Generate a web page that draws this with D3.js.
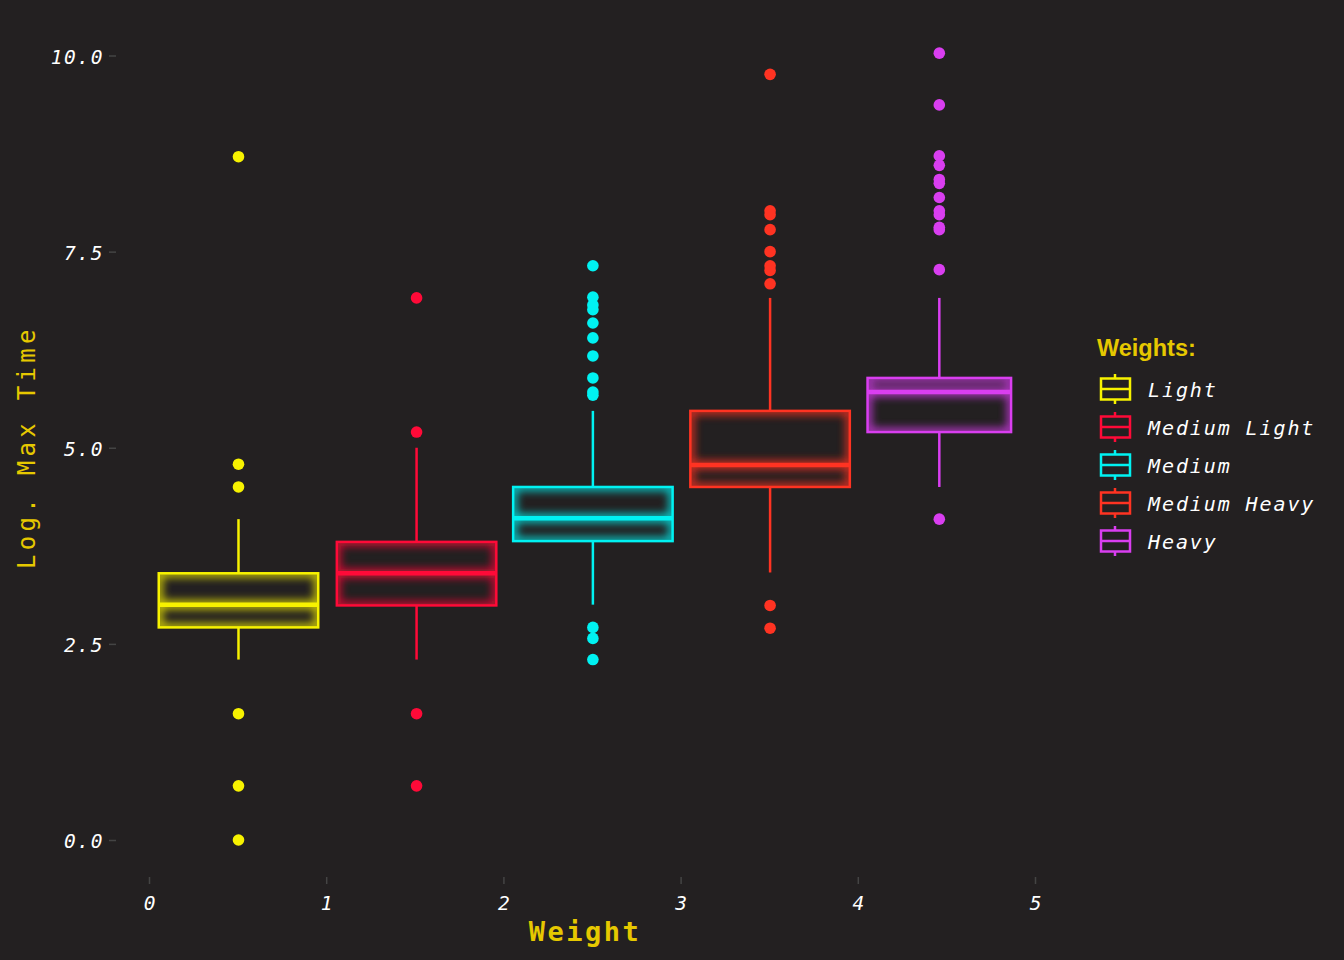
<!DOCTYPE html>
<html><head><meta charset="utf-8">
<script src="https://cdn.jsdelivr.net/npm/d3@7"></script>
<style>
html,body{margin:0;padding:0;background:#232021;}
svg{display:block;}
</style></head>
<body>
<svg id="chart" width="1344" height="960"></svg>
<script>
// ---- data ----
const categories = ["Light", "Medium Light", "Medium", "Medium Heavy", "Heavy"];
const positions = [0.505, 1.51, 2.505, 3.505, 4.46];
const whiskerLow  = [2.30, 2.30, 3.00, 3.41, 4.50];
const q1          = [2.71, 2.99, 3.81, 4.50, 5.20];
const median      = [3.00, 3.40, 4.10, 4.78, 5.71];
const q3          = [3.40, 3.80, 4.50, 5.47, 5.89];
const whiskerHigh = [4.09, 5.00, 5.47, 6.91, 6.91];
const outliers = [
  [8.71, 4.79, 4.50, 1.61, 0.69, 0.00],
  [6.91, 5.20, 1.61, 0.69],
  [7.32, 6.92, 6.82, 6.76, 6.59, 6.40, 6.17, 5.89, 5.71, 5.67, 2.71, 2.57, 2.30],
  [9.76, 8.02, 7.97, 7.78, 7.50, 7.32, 7.26, 7.09, 2.99, 2.70],
  [10.03, 9.37, 8.72, 8.60, 8.42, 8.37, 8.19, 8.02, 7.97, 7.81, 7.78, 7.27, 4.09]
];
const yTicks = [0, 2.5, 5, 7.5, 10];
const yTickLabels = ["0.0", "2.5", "5.0", "7.5", "10.0"];
const xTicks = [0, 1, 2, 3, 4, 5];
const xTickLabels = ["0", "1", "2", "3", "4", "5"];

// ---- styles ----
const colors = ["#f7f200", "#ff0a38", "#00f2f2", "#ff3322", "#d93ef0"];
const boxWidthFrac = [0.9, 0.9, 0.9, 0.9, 0.81];
const bg = "#232021";
const titleColor = "#e6c800";
const monoFont = "'DejaVu Sans Mono', monospace";

const svg = d3.select("#chart");
svg.append("rect").attr("width", 1344).attr("height", 960).attr("fill", bg);

const x = d3.scaleLinear().domain([0, 5]).range([149, 1035]);
const y = d3.scaleLinear().domain([0, 10]).range([840, 55.5]);

const defs = svg.append("defs");
defs.append("filter").attr("id", "glow").attr("x", "-20%").attr("y", "-50%").attr("width", "140%").attr("height", "200%")
  .append("feGaussianBlur").attr("stdDeviation", 4);

// axes
const yAxis = d3.axisLeft(y).tickValues(yTicks).tickFormat((d, i) => yTickLabels[i]).tickSize(7).tickPadding(5);
const gy = svg.append("g").attr("transform", "translate(116,0)").call(yAxis);
gy.select(".domain").remove();
gy.selectAll(".tick line").attr("stroke", "#444").attr("stroke-width", 1.5);
gy.selectAll(".tick text").attr("fill", "#fff").attr("font-family", monoFont).attr("font-style", "italic")
  .attr("font-size", 19.5).attr("letter-spacing", 1.6).attr("dy", "0.4em");

const xAxis = d3.axisBottom(x).tickValues(xTicks).tickFormat((d, i) => xTickLabels[i]).tickSize(7).tickPadding(12);
const gx = svg.append("g").attr("transform", "translate(0,877)").call(xAxis);
gx.select(".domain").remove();
gx.selectAll(".tick line").attr("stroke", "#444").attr("stroke-width", 1.5);
gx.selectAll(".tick text").attr("fill", "#fff").attr("font-family", monoFont).attr("font-style", "italic")
  .attr("font-size", 19.5);

// axis titles
svg.append("text").attr("x", 585).attr("y", 941).attr("text-anchor", "middle")
  .attr("fill", titleColor).attr("font-family", monoFont).attr("font-size", 27).attr("font-weight", "bold")
  .attr("letter-spacing", 2.5).text("Weight");
svg.append("text").attr("transform", "translate(35,447) rotate(-90)").attr("text-anchor", "middle")
  .attr("fill", titleColor).attr("font-family", monoFont).attr("font-size", 24)
  .attr("letter-spacing", 4.3).text("Log. Max Time");

// boxes
const unit = x(1) - x(0);
categories.forEach((c, i) => {
  const cx = x(positions[i]);
  const hw = unit * boxWidthFrac[i] / 2;
  const col = colors[i];
  const g = svg.append("g");
  // whiskers
  g.append("line").attr("x1", cx).attr("x2", cx).attr("y1", y(q3[i])).attr("y2", y(whiskerHigh[i]))
    .attr("stroke", col).attr("stroke-width", 2.5);
  g.append("line").attr("x1", cx).attr("x2", cx).attr("y1", y(q1[i])).attr("y2", y(whiskerLow[i]))
    .attr("stroke", col).attr("stroke-width", 2.5);
  // glow clipped to box interior
  const clipId = "clip" + i;
  defs.append("clipPath").attr("id", clipId).append("rect")
    .attr("x", cx - hw).attr("y", y(q3[i])).attr("width", 2 * hw).attr("height", y(q1[i]) - y(q3[i]));
  const glow = g.append("g").attr("clip-path", `url(#${clipId})`).append("g").attr("filter", "url(#glow)").attr("opacity", 0.8);
  glow.append("rect").attr("x", cx - hw).attr("y", y(q3[i])).attr("width", 2 * hw).attr("height", y(q1[i]) - y(q3[i]))
    .attr("fill", "none").attr("stroke", col).attr("stroke-width", 8);
  glow.append("line").attr("x1", cx - hw).attr("x2", cx + hw).attr("y1", y(median[i])).attr("y2", y(median[i]))
    .attr("stroke", col).attr("stroke-width", 9);
  // crisp box
  g.append("rect").attr("x", cx - hw).attr("y", y(q3[i])).attr("width", 2 * hw).attr("height", y(q1[i]) - y(q3[i]))
    .attr("fill", "none").attr("stroke", col).attr("stroke-width", 2.5);
  g.append("line").attr("x1", cx - hw).attr("x2", cx + hw).attr("y1", y(median[i])).attr("y2", y(median[i]))
    .attr("stroke", col).attr("stroke-width", 4.5);
  // outliers
  g.selectAll("circle").data(outliers[i]).join("circle")
    .attr("cx", cx).attr("cy", d => y(d)).attr("r", 5.8).attr("fill", col);
});

// legend
const lg = svg.append("g");
lg.append("text").attr("x", 1097).attr("y", 356).attr("fill", titleColor)
  .attr("font-family", "'Liberation Sans', Arial, sans-serif").attr("font-weight", "bold").attr("font-size", 23.5)
  .text("Weights:");
categories.forEach((c, i) => {
  const cy = 389 + i * 38;
  const col = colors[i];
  const k = lg.append("g");
  k.append("line").attr("x1", 1115).attr("x2", 1115).attr("y1", cy - 15).attr("y2", cy + 15).attr("stroke", col).attr("stroke-width", 2.5);
  k.append("rect").attr("x", 1101).attr("y", cy - 10.5).attr("width", 29).attr("height", 21)
    .attr("fill", bg).attr("stroke", col).attr("stroke-width", 2.5);
  k.append("line").attr("x1", 1101).attr("x2", 1130).attr("y1", cy).attr("y2", cy).attr("stroke", col).attr("stroke-width", 2.5);
  lg.append("text").attr("x", 1148).attr("y", cy + 8).attr("fill", "#fff")
    .attr("font-family", monoFont).attr("font-style", "italic").attr("font-size", 20).attr("letter-spacing", 1.9)
    .text(c);
});
</script>
</body></html>
